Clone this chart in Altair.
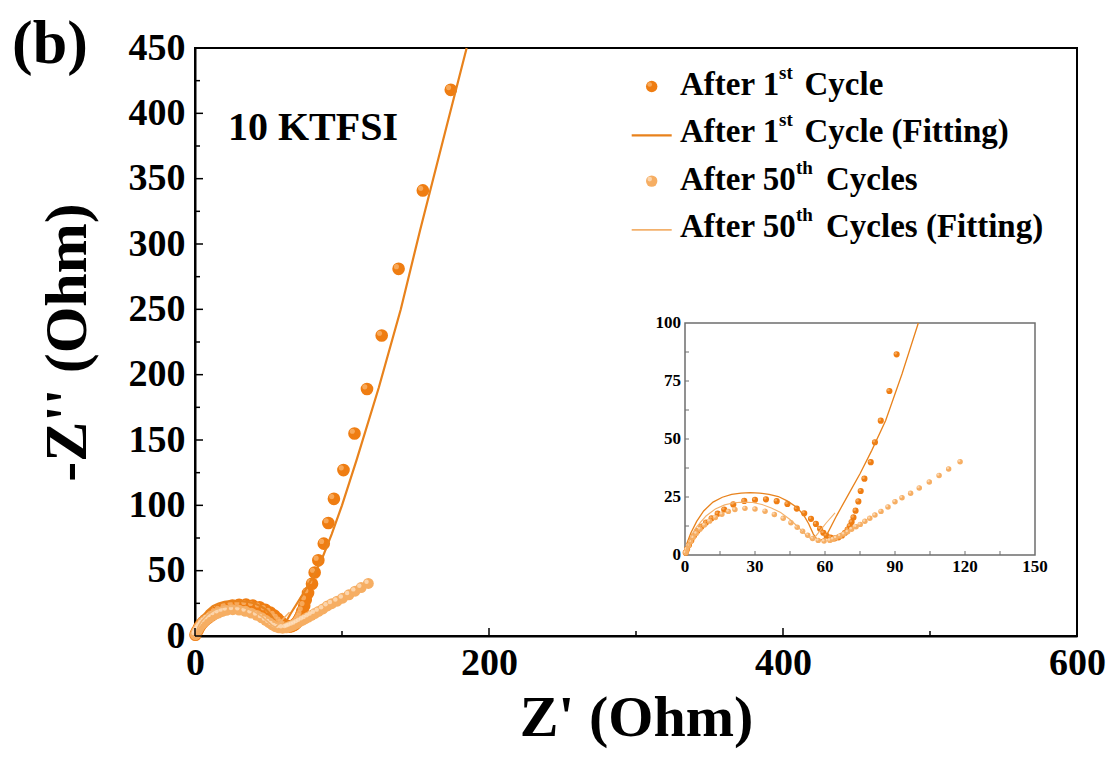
import altair as alt
import pandas as pd

# ---- impedance data (Z' / -Z'' in Ohm) -------------------------------------
z1_re = [0.3, 0.9, 1.7, 2.7, 3.9, 5.3, 7.0, 9.0, 11.4, 14.0, 16.8, 20.7, 25.4,
         30.0, 34.7, 39.3, 43.9, 47.9, 51.1, 54.0, 56.1, 57.9, 59.3, 60.7, 62.4,
         64.2, 65.8, 67.3, 68.6, 69.7, 70.6, 71.4, 72.2, 73.1, 74.3, 75.3, 76.9,
         79.6, 81.4, 83.9, 87.6, 90.7, 94.5, 101.0, 108.5, 117.0, 127.0, 138.5,
         155.0, 174.0]
z1_im = [1.0, 2.5, 4.3, 6.3, 8.4, 10.3, 12.2, 14.0, 15.8, 17.8, 19.6, 21.8, 23.3,
         23.8, 24.0, 23.2, 22.0, 20.0, 18.0, 15.6, 13.4, 11.3, 9.6, 8.3, 7.5,
         7.2, 7.6, 8.4, 9.6, 11.0, 12.5, 14.2, 16.2, 19.1, 23.1, 27.6, 32.9,
         40.0, 48.6, 57.9, 70.7, 86.5, 105.0, 127.0, 155.0, 189.0, 230.0, 281.0,
         341.0, 418.0]

z50_re = [0.3, 0.8, 1.5, 2.4, 3.5, 4.8, 6.4, 8.3, 10.5, 13.0, 15.8, 18.6, 21.4,
          25.7, 30.0, 34.3, 38.3, 42.1, 45.4, 48.1, 50.4, 52.6, 54.7, 57.1, 59.6,
          62.1, 63.4, 64.7, 66.4, 68.1, 69.7, 71.4, 73.3, 75.1, 77.1, 79.2, 81.4,
          84.0, 87.0, 90.0, 93.0, 96.7, 100.4, 104.7, 108.9, 113.0, 117.9]
z50_im = [1.0, 2.4, 4.0, 5.7, 7.5, 9.3, 11.1, 12.9, 14.6, 16.2, 17.6, 18.8, 19.6,
          20.1, 19.8, 18.9, 17.5, 15.8, 13.9, 12.0, 10.2, 8.5, 7.1, 6.3, 6.0,
          6.3, 6.8, 7.4, 8.2, 9.0, 10.0, 11.1, 12.2, 13.2, 14.5, 15.8, 17.2,
          18.8, 20.7, 23.0, 24.7, 26.6, 28.9, 31.5, 34.3, 37.1, 40.2]

fit1_re = [0, 1, 2.5, 5, 8, 12, 16, 20, 24, 28, 32, 36, 40, 44, 48, 51, 53, 55,
           56.5, 58, 59.5, 60.7, 65, 70, 75, 80, 86, 93, 100, 110, 125, 140, 153,
           170, 184.8]
fit1_im = [0, 5.5, 9.5, 14.5, 19.0, 22.8, 24.9, 26.1, 26.7, 26.9, 26.7, 26.1, 25.2,
           23.2, 20.5, 17.0, 13.5, 9.0, 6.8, 6.3, 7.0, 8.6, 17, 26, 35, 45, 58, 78,
           100, 135, 190, 250, 310, 385, 450]

fit50_re = [0, 1, 2.5, 4.5, 6.5, 9, 13, 17, 21, 25, 29, 33, 37, 41, 45, 48, 50.5,
            52.5, 54.7, 57.5, 60.5, 64.3]
fit50_im = [0, 4, 8, 11.5, 14, 16.8, 19.8, 21.6, 22.5, 22.8, 22.6, 21.8, 20.3, 18.3,
            15.3, 12.5, 10, 8, 6.5, 10, 13.8, 18.2]

# axis ticks
x_major = [0, 200, 400, 600]
x_minor = [100, 300, 500]
y_major = [0, 50, 100, 150, 200, 250, 300, 350, 400, 450]
y_minor = [25, 75, 125, 175, 225, 275, 325, 375, 425]
inset_x_labels = [0, 30, 60, 90, 120, 150]
inset_y_labels = [0, 25, 50, 75, 100]
inset_x_ticks = [15, 30, 45, 60, 75, 90, 105, 120, 135]
inset_y_ticks = [12.5, 25, 37.5, 50, 62.5, 75, 87.5]

legend_main = ["After 1", "After 1", "After 50", "After 50"]
legend_sup = ["st", "st", "th", "th"]
legend_rest = ["Cycle", "Cycle (Fitting)", "Cycles", "Cycles (Fitting)"]
legend_kind = ["dot", "line", "dot", "line"]
sample_label = "10 KTFSI"
panel_label = "(b)"

# ---- styling ---------------------------------------------------------------
SERIF = "Liberation Serif"
DARK = "#EF7D12"
DARK_HI = "#F9B772"
LIGHT = "#F6AE63"
LIGHT_HI = "#FDE2C4"
DARK_LINE = "#E8821C"
LIGHT_LINE = "#F3B16C"

W, H = 882, 588
X_MAX, Y_MAX = 600, 450

# inset box in plot pixels (left, right, top, bottom) and its own ranges
IN_L, IN_R, IN_T, IN_B = 490, 840, 275, 507
IN_XMAX, IN_YMAX = 150, 100
ix0 = IN_L / W * X_MAX
ix1 = IN_R / W * X_MAX
iy0 = (H - IN_B) / H * Y_MAX
iy1 = (H - IN_T) / H * Y_MAX
kx = (ix1 - ix0) / IN_XMAX
ky = (iy1 - iy0) / IN_YMAX

XS = alt.Scale(domain=[0, X_MAX], nice=False, zero=False)
YS = alt.Scale(domain=[0, Y_MAX], nice=False, zero=False)

XAXIS = alt.Axis(values=x_major, ticks=False, grid=False, domainColor="black",
                 domainWidth=2, labelFont=SERIF, labelFontSize=38,
                 labelFontWeight="bold", labelColor="black", labelPadding=8,
                 labelFlush=False, title="Z' (Ohm)", titleFont=SERIF,
                 titleFontSize=58, titleFontWeight="bold", titleColor="black",
                 titleX=W / 2, titleY=99, titleBaseline="alphabetic",
                 titleAlign="center")
YAXIS = alt.Axis(values=y_major, ticks=False, grid=False, domainColor="black",
                 domainWidth=2, labelFont=SERIF, labelFontSize=38,
                 labelFontWeight="bold", labelColor="black", labelPadding=10,
                 labelFlush=False, title="-Z'' (Ohm)", titleFont=SERIF,
                 titleFontSize=60, titleFontWeight="bold", titleColor="black",
                 titleX=-110, titleY=H / 2, titleAngle=-90,
                 titleBaseline="alphabetic", titleAlign="center")


def xq(field):
    return alt.X(field, type="quantitative", scale=XS, axis=XAXIS)


def yq(field):
    return alt.Y(field, type="quantitative", scale=YS, axis=YAXIS)


def series(re, im):
    return pd.DataFrame({"re": re, "im": im, "k": range(len(re))})


d1 = series(z1_re, z1_im)
d50 = series(z50_re, z50_im)
f1 = series(fit1_re, fit1_im)
f50 = series(fit50_re, fit50_im)
one = pd.DataFrame({"t": [0]})

layers = []


# ---- main plot -------------------------------------------------------------
def dots(df, color, hi, size, hi_size, off):
    base = alt.Chart(df).mark_circle(size=size, color=color, opacity=1).encode(
        x=xq("re"), y=yq("im"))
    shine = alt.Chart(df).mark_circle(size=hi_size, color=hi, opacity=0.75,
                                      xOffset=-off, yOffset=-off).encode(
        x=xq("re"), y=yq("im"))
    return [base, shine]


def fit_line(df, color, width):
    return alt.Chart(df).mark_line(color=color, strokeWidth=width).encode(
        x=xq("re"), y=yq("im"), order="k:Q")


layers += dots(d1, DARK, DARK_HI, 160, 26, 2.2)
layers.append(fit_line(f1, DARK_LINE, 2.2))
layers += dots(d50, LIGHT, LIGHT_HI, 120, 20, 1.8)
layers.append(fit_line(f50, LIGHT_LINE, 1.6))

# inward ticks of the main frame
layers.append(alt.Chart(pd.DataFrame({"v": y_major})).mark_rule(
    color="black", strokeWidth=1.5).encode(
    y=yq("v"), x=alt.value(0), x2=alt.value(8)))
layers.append(alt.Chart(pd.DataFrame({"v": y_minor})).mark_rule(
    color="black", strokeWidth=1.5).encode(
    y=yq("v"), x=alt.value(0), x2=alt.value(5)))
layers.append(alt.Chart(pd.DataFrame({"v": x_major})).mark_rule(
    color="black", strokeWidth=1.5).encode(
    x=xq("v"), y=alt.value(H), y2=alt.value(H - 8)))
layers.append(alt.Chart(pd.DataFrame({"v": x_minor})).mark_rule(
    color="black", strokeWidth=1.5).encode(
    x=xq("v"), y=alt.value(H), y2=alt.value(H - 5)))

# ---- inset (zoom of the low-impedance region) -----------------------------
box = pd.DataFrame({"a": [ix0], "b": [ix1], "c": [iy0], "d": [iy1]})
layers.append(alt.Chart(box).mark_rect(fill="white", stroke="#6e6e6e",
                                       strokeWidth=1.5).encode(
    x=xq("a"), x2="b", y=yq("c"), y2="d"))


def to_inset(chart):
    return chart.transform_filter(
        f"datum.re <= {IN_XMAX} && datum.im <= {IN_YMAX}"
    ).transform_calculate(
        ix=f"{ix0} + datum.re * {kx}", iy=f"{iy0} + datum.im * {ky}")


def inset_dots(df, color, hi, size, hi_size, off):
    base = to_inset(alt.Chart(df)).mark_circle(size=size, color=color,
                                               opacity=1).encode(
        x=xq("ix"), y=yq("iy"))
    shine = to_inset(alt.Chart(df)).mark_circle(
        size=hi_size, color=hi, opacity=0.75, xOffset=-off, yOffset=-off).encode(
        x=xq("ix"), y=yq("iy"))
    return [base, shine]


def inset_line(df, color, width):
    return to_inset(alt.Chart(df)).mark_line(color=color,
                                             strokeWidth=width).encode(
        x=xq("ix"), y=yq("iy"), order="k:Q")


layers += inset_dots(d1, DARK, DARK_HI, 38, 7, 1.0)
layers.append(inset_line(f1, DARK_LINE, 1.3))
layers += inset_dots(d50, LIGHT, LIGHT_HI, 30, 6, 0.9)
layers.append(inset_line(f50, LIGHT_LINE, 1.1))

# inset ticks and labels
layers.append(alt.Chart(pd.DataFrame({"v": inset_x_ticks})).transform_calculate(
    p=f"{ix0} + datum.v * {kx}").mark_rule(color="#6e6e6e", strokeWidth=1).encode(
    x=xq("p"), y=alt.value(IN_B), y2=alt.value(IN_B - 4)))
layers.append(alt.Chart(pd.DataFrame({"v": inset_y_ticks})).transform_calculate(
    p=f"{iy0} + datum.v * {ky}").mark_rule(color="#6e6e6e", strokeWidth=1).encode(
    y=yq("p"), x=alt.value(IN_L), x2=alt.value(IN_L + 4)))
layers.append(alt.Chart(pd.DataFrame({"v": inset_x_labels})).transform_calculate(
    p=f"{ix0} + datum.v * {kx}").mark_text(
    font=SERIF, fontSize=17, fontWeight="bold", color="black",
    baseline="top", align="center").encode(
    x=xq("p"), y=alt.value(IN_B + 4), text="v:Q"))
layers.append(alt.Chart(pd.DataFrame({"v": inset_y_labels})).transform_calculate(
    p=f"{iy0} + datum.v * {ky}").mark_text(
    font=SERIF, fontSize=17, fontWeight="bold", color="black",
    baseline="middle", align="right").encode(
    y=yq("p"), x=alt.value(IN_L - 4), text="v:Q"))

# ---- annotations -----------------------------------------------------------
layers.append(alt.Chart(one).mark_text(
    text=sample_label, font=SERIF, fontSize=40, fontWeight="bold",
    color="black", align="left", baseline="alphabetic").encode(
    x=alt.value(33), y=alt.value(92)))
layers.append(alt.Chart(one).mark_text(
    text=panel_label, font=SERIF, fontSize=62, fontWeight="bold",
    color="black", align="left", baseline="alphabetic").encode(
    x=alt.value(-183), y=alt.value(15)))

# ---- legend ----------------------------------------------------------------
LEG_TEXT_X = 485
LEG_BASE0 = 47
LEG_STEP = 47.3
SUP_X = {"st": 584, "th": 601}
REST_X = {"st": 609.5, "th": 631}
styles = [(DARK, DARK_HI, DARK_LINE, 2.2), (DARK, DARK_HI, DARK_LINE, 2.2),
          (LIGHT, LIGHT_HI, LIGHT_LINE, 1.8), (LIGHT, LIGHT_HI, LIGHT_LINE, 1.8)]

for i, (main, sup, rest, kind) in enumerate(
        zip(legend_main, legend_sup, legend_rest, legend_kind)):
    base_y = LEG_BASE0 + i * LEG_STEP
    fill, hi, line_c, lw = styles[i]
    if kind == "dot":
        layers.append(alt.Chart(one).mark_circle(size=130, color=fill,
                                                 opacity=1).encode(
            x=alt.value(456.7), y=alt.value(base_y - 8.5)))
        layers.append(alt.Chart(one).mark_circle(size=22, color=hi, opacity=0.75,
                                                 xOffset=-2, yOffset=-2).encode(
            x=alt.value(456.7), y=alt.value(base_y - 8.5)))
    else:
        layers.append(alt.Chart(one).mark_rule(color=line_c, strokeWidth=lw).encode(
            x=alt.value(436.7), x2=alt.value(476.7), y=alt.value(base_y - 7)))
    txt = dict(font=SERIF, fontWeight="bold", color="black", align="left",
               baseline="alphabetic")
    layers.append(alt.Chart(one).mark_text(text=main, fontSize=33, **txt).encode(
        x=alt.value(LEG_TEXT_X), y=alt.value(base_y)))
    layers.append(alt.Chart(one).mark_text(text=sup, fontSize=19, **txt).encode(
        x=alt.value(SUP_X[sup]), y=alt.value(base_y - 16)))
    layers.append(alt.Chart(one).mark_text(text=rest, fontSize=33, **txt).encode(
        x=alt.value(REST_X[sup]), y=alt.value(base_y)))

chart = alt.layer(*layers).properties(
    width=W, height=H,
    autosize=alt.AutoSizeParams(type="none"),
    padding={"left": 195, "top": 48, "right": 38, "bottom": 131},
    background="white",
).configure_view(stroke="black", strokeWidth=2)

chart.save("out.html", embed_options={"renderer": "svg", "actions": False})
